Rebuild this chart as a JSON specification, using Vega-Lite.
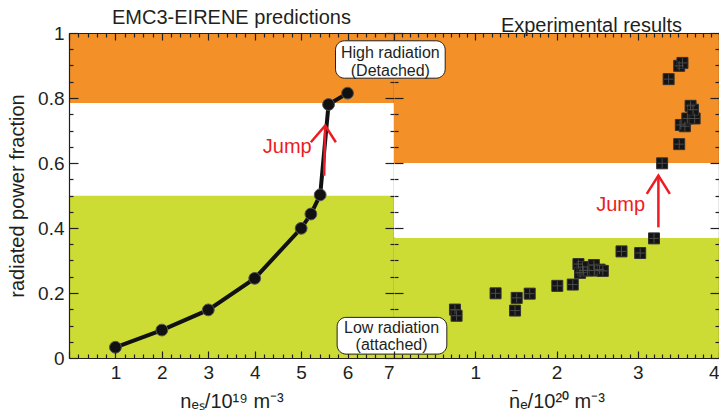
{
  "$schema": "https://vega.github.io/schema/vega-lite/v6.json",
  "padding": {"left": 7, "top": 8, "right": 0, "bottom": 0},
  "spacing": 0,
  "bounds": "flush",
  "datasets": {
    "bandsL": [
      {"regime": "low", "lo": 0, "hi": 0.5},
      {"regime": "mid", "lo": 0.5, "hi": 0.785},
      {"regime": "high", "lo": 0.785, "hi": 1}
    ],
    "bandsR": [
      {"regime": "low", "lo": 0, "hi": 0.37},
      {"regime": "mid", "lo": 0.37, "hi": 0.6},
      {"regime": "high", "lo": 0.6, "hi": 1}
    ],
    "model": [
      {"nes": 1, "frac": 0.033},
      {"nes": 2, "frac": 0.086},
      {"nes": 3, "frac": 0.148},
      {"nes": 4, "frac": 0.245},
      {"nes": 5.0, "frac": 0.399},
      {"nes": 5.21, "frac": 0.443},
      {"nes": 5.41, "frac": 0.502},
      {"nes": 5.59, "frac": 0.78},
      {"nes": 6.0, "frac": 0.815}
    ],
    "exp": [
      {"ne": 0.75, "frac": 0.149}, {"ne": 0.77, "frac": 0.130},
      {"ne": 1.25, "frac": 0.199}, {"ne": 1.51, "frac": 0.185},
      {"ne": 1.49, "frac": 0.146}, {"ne": 1.67, "frac": 0.198},
      {"ne": 2.01, "frac": 0.222}, {"ne": 2.20, "frac": 0.226},
      {"ne": 2.27, "frac": 0.289}, {"ne": 2.29, "frac": 0.262},
      {"ne": 2.33, "frac": 0.269}, {"ne": 2.38, "frac": 0.270},
      {"ne": 2.46, "frac": 0.286}, {"ne": 2.47, "frac": 0.269},
      {"ne": 2.53, "frac": 0.272}, {"ne": 2.57, "frac": 0.268},
      {"ne": 2.32, "frac": 0.280},
      {"ne": 2.80, "frac": 0.328}, {"ne": 3.03, "frac": 0.323},
      {"ne": 3.20, "frac": 0.368}, {"ne": 3.30, "frac": 0.599},
      {"ne": 3.51, "frac": 0.658}, {"ne": 3.53, "frac": 0.717},
      {"ne": 3.58, "frac": 0.713}, {"ne": 3.61, "frac": 0.737},
      {"ne": 3.70, "frac": 0.737}, {"ne": 3.65, "frac": 0.776},
      {"ne": 3.68, "frac": 0.764}, {"ne": 3.38, "frac": 0.858},
      {"ne": 3.51, "frac": 0.899}, {"ne": 3.55, "frac": 0.908}
    ],
    "arrowL": [
      {"seg": "shaft", "k": 0, "x": 5.496, "y": 0.561},
      {"seg": "shaft", "k": 1, "x": 5.517, "y": 0.715},
      {"seg": "head", "k": 0, "x": 5.209, "y": 0.664},
      {"seg": "head", "k": 1, "x": 5.517, "y": 0.715},
      {"seg": "head", "k": 2, "x": 5.748, "y": 0.664}
    ],
    "arrowR": [
      {"seg": "shaft", "k": 0, "x": 3.254, "y": 0.402},
      {"seg": "shaft", "k": 1, "x": 3.254, "y": 0.561},
      {"seg": "head", "k": 0, "x": 3.111, "y": 0.505},
      {"seg": "head", "k": 1, "x": 3.254, "y": 0.561},
      {"seg": "head", "k": 2, "x": 3.395, "y": 0.505}
    ],
    "jumpL": [{"x": 4.70, "y": 0.648, "label": "Jump"}],
    "jumpR": [{"x": 2.79, "y": 0.471, "label": "Jump"}],
    "boxes": [
      {"x": -0.72, "x2": 0.63, "y": 0.861, "y2": 0.976, "xc": -0.045, "yc": 0.937, "label": "High radiation\n(Detached)"},
      {"x": -0.70, "x2": 0.65, "y": 0.012, "y2": 0.125, "xc": -0.03, "yc": 0.093, "label": "Low radiation\n(attached)"}
    ]
  },
  "hconcat": [
    {
      "width": 325,
      "height": 325,
      "title": {"text": "EMC3-EIRENE predictions"},
      "layer": [
        {
          "data": {"name": "bandsL"},
          "mark": {"type": "rect"},
          "encoding": {
            "x": {"value": 0},
            "x2": {"value": "width"},
            "y": {
              "field": "lo", "type": "quantitative",
              "scale": {"domain": [0, 1], "nice": false, "zero": false},
              "axis": {
                "orient": "left",
                "zindex": 1,
                "values": [0,0.05,0.1,0.15,0.2,0.25,0.3,0.35,0.4,0.45,0.5,0.55,0.6,0.65,0.7,0.75,0.8,0.85,0.9,0.95,1],
                "format": "~g",
                "labelExpr": "abs(datum.value*5-round(datum.value*5))<0.001 ? datum.label : ''",
                "tickSize": {"expr": "abs(datum.value*5-round(datum.value*5))<0.001 ? -9 : -4"},
                "labelPadding": 14,
                "title": "radiated power fraction",
                "titlePadding": 10
              }
            },
            "y2": {"field": "hi"},
            "color": {
              "field": "regime", "type": "nominal",
              "scale": {"domain": ["low", "mid", "high"], "range": ["#CDDC35", "#FFFFFF", "#F39128"]},
              "legend": null
            }
          }
        },
        {
          "data": {"name": "model"},
          "mark": {"type": "line", "color": "#111111", "strokeWidth": 4},
          "encoding": {
            "x": {
              "field": "nes", "type": "quantitative",
              "scale": {"domain": [0, 7], "nice": false, "zero": false},
              "axis": {
                "orient": "bottom",
                "zindex": 1,
                "values": [0,0.2,0.4,0.6,0.8,1,1.2,1.4,1.6,1.8,2,2.2,2.4,2.6,2.8,3,3.2,3.4,3.6,3.8,4,4.2,4.4,4.6,4.8,5,5.2,5.4,5.6,5.8,6,6.2,6.4,6.6,6.8,7],
                "format": "~g",
                "labelExpr": "datum.value > 0.5 && abs(datum.value-round(datum.value))<0.001 ? datum.label : ''",
                "tickSize": {"expr": "abs(datum.value-round(datum.value))<0.001 ? -7 : -4"},
                "labelPadding": 12,
                "title": "nₑₛ/10¹⁹ m⁻³",
                "titlePadding": 6
              }
            },
            "y": {
              "field": "frac", "type": "quantitative",
              "axis": {
                "orient": "right",
                "zindex": 1,
                "values": [0,0.05,0.1,0.15,0.2,0.25,0.3,0.35,0.4,0.45,0.5,0.55,0.6,0.65,0.7,0.75,0.8,0.85,0.9,0.95,1],
                "labels": false,
                "tickSize": {"expr": "abs(datum.value*5-round(datum.value*5))<0.001 ? -9 : -4"},
                "title": null
              }
            }
          }
        },
        {
          "data": {"name": "model"},
          "mark": {"type": "point", "shape": "circle", "filled": true, "size": 140, "fill": "#111111", "stroke": "#555555", "strokeWidth": 1, "opacity": 1},
          "encoding": {
            "x": {
              "field": "nes", "type": "quantitative",
              "axis": {
                "orient": "top",
                "zindex": 1,
                "values": [0,0.2,0.4,0.6,0.8,1,1.2,1.4,1.6,1.8,2,2.2,2.4,2.6,2.8,3,3.2,3.4,3.6,3.8,4,4.2,4.4,4.6,4.8,5,5.2,5.4,5.6,5.8,6,6.2,6.4,6.6,6.8,7],
                "labels": false,
                "tickSize": {"expr": "abs(datum.value-round(datum.value))<0.001 ? -7 : -4"},
                "title": null
              }
            },
            "y": {"field": "frac", "type": "quantitative", "axis": null}
          }
        },
        {
          "data": {"name": "arrowL"},
          "mark": {"type": "line", "color": "#ED1C24", "strokeWidth": 2.5},
          "encoding": {
            "x": {"field": "x", "type": "quantitative", "axis": null},
            "y": {"field": "y", "type": "quantitative", "axis": null},
            "detail": {"field": "seg"},
            "order": {"field": "k"}
          }
        },
        {
          "data": {"name": "jumpL"},
          "mark": {"type": "text", "color": "#ED1C24", "fontSize": 20, "align": "center", "baseline": "middle"},
          "encoding": {
            "x": {"field": "x", "type": "quantitative", "axis": null},
            "y": {"field": "y", "type": "quantitative", "axis": null},
            "text": {"field": "label"}
          }
        }
      ]
    },
    {
      "width": 325,
      "height": 325,
      "title": {"text": "Experimental results", "dx": 35},
      "layer": [
        {
          "data": {"name": "bandsR"},
          "mark": {"type": "rect"},
          "encoding": {
            "x": {"value": 0},
            "x2": {"value": "width"},
            "y": {
              "field": "lo", "type": "quantitative",
              "scale": {"domain": [0, 1], "nice": false, "zero": false},
              "axis": {
                "orient": "right",
                "zindex": 1,
                "values": [0,0.05,0.1,0.15,0.2,0.25,0.3,0.35,0.4,0.45,0.5,0.55,0.6,0.65,0.7,0.75,0.8,0.85,0.9,0.95,1],
                "labels": false,
                "tickSize": {"expr": "abs(datum.value*5-round(datum.value*5))<0.001 ? -9 : -4"},
                "title": null
              }
            },
            "y2": {"field": "hi"},
            "color": {
              "field": "regime", "type": "nominal",
              "scale": {"domain": ["low", "mid", "high"], "range": ["#CDDC35", "#FFFFFF", "#F39128"]},
              "legend": null
            }
          }
        },
        {
          "data": {"name": "exp"},
          "mark": {"type": "point", "shape": "square", "filled": true, "size": 121, "fill": "#141414", "stroke": "#333333", "strokeWidth": 1, "opacity": 1},
          "encoding": {
            "x": {
              "field": "ne", "type": "quantitative",
              "scale": {"domain": [0, 4], "nice": false, "zero": false},
              "axis": {
                "orient": "bottom",
                "zindex": 1,
                "values": [0,0.1,0.2,0.3,0.4,0.5,0.6,0.7,0.8,0.9,1,1.1,1.2,1.3,1.4,1.5,1.6,1.7,1.8,1.9,2,2.1,2.2,2.3,2.4,2.5,2.6,2.7,2.8,2.9,3,3.1,3.2,3.3,3.4,3.5,3.6,3.7,3.8,3.9,4],
                "format": "~g",
                "labelExpr": "datum.value > 0.5 && abs(datum.value-round(datum.value))<0.001 ? datum.label : ''",
                "tickSize": {"expr": "abs(datum.value-round(datum.value))<0.001 ? -7 : -4"},
                "labelPadding": 12,
                "title": "n̄ₑ/10²⁰ m⁻³",
                "titlePadding": 6
              }
            },
            "y": {
              "field": "frac", "type": "quantitative",
              "axis": {
                "orient": "left",
                "zindex": 1,
                "values": [0,0.15,0.2,0.25,0.3,0.35,0.4,0.45,0.5,0.55,0.6,0.65,0.7,0.75,0.8,0.85,1],
                "labels": false,
                "domain": false,
                "tickSize": {"expr": "abs(datum.value*5-round(datum.value*5))<0.001 ? -9 : -4"},
                "title": null
              }
            }
          }
        },
        {
          "data": {"name": "exp"},
          "mark": {"type": "point", "shape": "M-0.85,0L0.85,0M0,-0.85L0,0.85", "filled": false, "size": 121, "stroke": "#4a4a4a", "strokeWidth": 1, "opacity": 1},
          "encoding": {
            "x": {
              "field": "ne", "type": "quantitative",
              "axis": {
                "orient": "top",
                "zindex": 1,
                "values": [0,0.1,0.2,0.3,0.4,0.5,0.6,0.7,0.8,0.9,1,1.1,1.2,1.3,1.4,1.5,1.6,1.7,1.8,1.9,2,2.1,2.2,2.3,2.4,2.5,2.6,2.7,2.8,2.9,3,3.1,3.2,3.3,3.4,3.5,3.6,3.7,3.8,3.9,4],
                "labels": false,
                "tickSize": {"expr": "abs(datum.value-round(datum.value))<0.001 ? -7 : -4"},
                "title": null
              }
            },
            "y": {"field": "frac", "type": "quantitative", "axis": null}
          }
        },
        {
          "data": {"name": "arrowR"},
          "mark": {"type": "line", "color": "#ED1C24", "strokeWidth": 2.5},
          "encoding": {
            "x": {"field": "x", "type": "quantitative", "axis": null},
            "y": {"field": "y", "type": "quantitative", "axis": null},
            "detail": {"field": "seg"},
            "order": {"field": "k"}
          }
        },
        {
          "data": {"name": "jumpR"},
          "mark": {"type": "text", "color": "#ED1C24", "fontSize": 20, "align": "center", "baseline": "middle"},
          "encoding": {
            "x": {"field": "x", "type": "quantitative", "axis": null},
            "y": {"field": "y", "type": "quantitative", "axis": null},
            "text": {"field": "label"}
          }
        },
        {
          "data": {"name": "boxes"},
          "mark": {"type": "rect", "fill": "#FFFFFF", "stroke": "#231f20", "strokeWidth": 1, "cornerRadius": 9},
          "encoding": {
            "x": {"field": "x", "type": "quantitative", "axis": null},
            "x2": {"field": "x2"},
            "y": {"field": "y", "type": "quantitative", "axis": null},
            "y2": {"field": "y2"}
          }
        },
        {
          "data": {"name": "boxes"},
          "mark": {"type": "text", "color": "#231f20", "fontSize": 16, "align": "center", "baseline": "middle", "lineBreak": "\n", "lineHeight": 17.6},
          "encoding": {
            "x": {"field": "xc", "type": "quantitative", "axis": null},
            "y": {"field": "yc", "type": "quantitative", "axis": null},
            "text": {"field": "label"}
          }
        }
      ]
    }
  ],
  "config": {
    "font": "Liberation Sans",
    "view": {"stroke": null},
    "axis": {
      "grid": false,
      "domain": true,
      "ticks": true,
      "domainColor": "#231f20",
      "tickColor": "#231f20",
      "labelColor": "#231f20",
      "titleColor": "#231f20",
      "labelFontSize": 19,
      "titleFontSize": 20,
      "titleFontWeight": "normal",
      "labelOverlap": false,
      "labelBound": false,
      "tickWidth": 1.2,
      "domainWidth": 1.2
    },
    "title": {"fontSize": 20, "fontWeight": "normal", "color": "#231f20", "offset": -4}
  }
}
